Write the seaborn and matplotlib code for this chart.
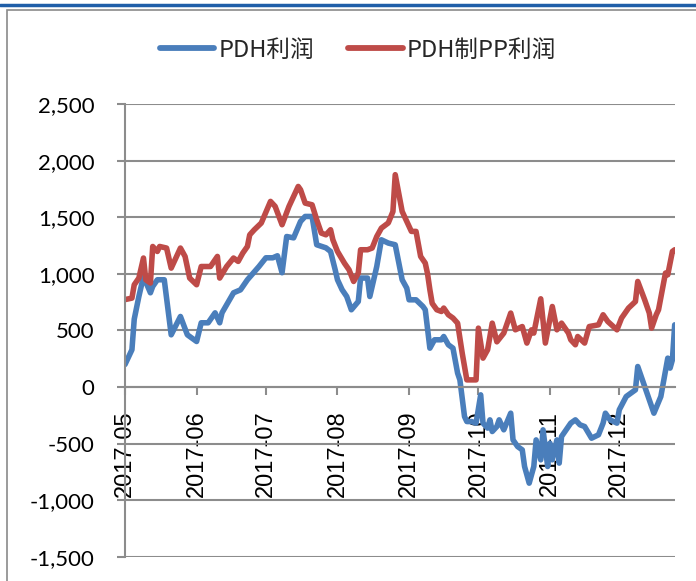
import matplotlib
matplotlib.use("Agg")
import matplotlib.pyplot as plt
import matplotlib.ticker as mticker
from matplotlib.patches import Rectangle
from matplotlib.lines import Line2D
import seaborn as sns
import pandas as pd

series_names = ["PDH利润", "PDH制PP利润"]
series_colors = ["#4a7ebb", "#be4b48"]

pdh_dates = [
    "2017-05-01", "2017-05-04", "2017-05-05", "2017-05-07", "2017-05-09", "2017-05-12", "2017-05-13",
    "2017-05-15", "2017-05-18", "2017-05-21", "2017-05-25", "2017-05-28", "2017-06-01", "2017-06-03",
    "2017-06-06", "2017-06-09", "2017-06-11", "2017-06-12", "2017-06-17", "2017-06-20", "2017-06-23",
    "2017-06-28", "2017-07-01", "2017-07-04", "2017-07-06", "2017-07-08", "2017-07-10", "2017-07-13",
    "2017-07-16", "2017-07-18", "2017-07-21", "2017-07-23", "2017-07-27", "2017-07-29", "2017-07-31",
    "2017-08-01", "2017-08-03", "2017-08-05", "2017-08-07", "2017-08-10", "2017-08-11", "2017-08-14",
    "2017-08-15", "2017-08-18", "2017-08-20", "2017-08-23", "2017-08-26", "2017-08-29", "2017-08-31",
    "2017-09-01", "2017-09-04", "2017-09-07", "2017-09-08", "2017-09-10", "2017-09-12", "2017-09-15",
    "2017-09-16", "2017-09-18", "2017-09-20", "2017-09-22", "2017-09-23", "2017-09-25", "2017-09-26",
    "2017-09-28", "2017-09-30", "2017-10-02", "2017-10-03", "2017-10-05", "2017-10-06", "2017-10-07",
    "2017-10-09", "2017-10-10", "2017-10-12", "2017-10-15", "2017-10-16", "2017-10-18", "2017-10-20",
    "2017-10-21", "2017-10-23", "2017-10-25", "2017-10-26", "2017-10-28", "2017-10-29", "2017-10-31",
    "2017-11-01", "2017-11-02", "2017-11-04", "2017-11-05", "2017-11-06", "2017-11-08", "2017-11-10",
    "2017-11-12", "2017-11-14", "2017-11-16", "2017-11-19", "2017-11-22", "2017-11-24", "2017-11-25",
    "2017-11-27", "2017-11-30", "2017-12-01", "2017-12-04", "2017-12-08", "2017-12-09", "2017-12-13",
    "2017-12-16", "2017-12-19", "2017-12-22", "2017-12-23", "2017-12-24", "2017-12-25",
]
pdh_values = [
    200, 330, 600, 800, 977, 833, 889,
    948, 948, 462, 624, 462, 403, 568,
    568, 656, 568, 656, 833, 859, 948,
    1065, 1142, 1142, 1160, 1010, 1330, 1318,
    1463, 1507, 1507, 1257, 1230, 1198, 1036,
    948, 860, 800, 683, 756, 963, 963,
    800, 1065, 1301, 1272, 1257, 948, 874,
    771, 771, 712, 683, 344, 418, 418,
    447, 374, 344, 124, 64, -260, -304,
    -304, -318, -68, -318, -362, -289, -392,
    -348, -289, -377, -230, -466, -525, -554,
    -701, -848, -701, -466, -642, -377, -701,
    -495, -642, -466, -671, -436, -377, -318,
    -289, -333, -348, -451, -421, -318, -230,
    -289, -318, -200, -83, -24, 182, -53,
    -230, -83, 256, 168, 241, 550,
]

pp_dates = [
    "2017-05-01", "2017-05-04", "2017-05-05", "2017-05-07", "2017-05-09", "2017-05-10", "2017-05-12",
    "2017-05-13", "2017-05-15", "2017-05-16", "2017-05-19", "2017-05-21", "2017-05-25", "2017-05-27",
    "2017-05-29", "2017-06-01", "2017-06-03", "2017-06-07", "2017-06-10", "2017-06-11", "2017-06-14",
    "2017-06-17", "2017-06-19", "2017-06-21", "2017-06-23", "2017-06-24", "2017-06-26", "2017-06-29",
    "2017-07-03", "2017-07-05", "2017-07-08", "2017-07-11", "2017-07-15", "2017-07-16", "2017-07-18",
    "2017-07-21", "2017-07-23", "2017-07-25", "2017-07-27", "2017-07-29", "2017-07-30", "2017-08-01",
    "2017-08-04", "2017-08-06", "2017-08-08", "2017-08-10", "2017-08-11", "2017-08-14", "2017-08-16",
    "2017-08-18", "2017-08-20", "2017-08-23", "2017-08-25", "2017-08-26", "2017-08-29", "2017-08-31",
    "2017-09-02", "2017-09-04", "2017-09-06", "2017-09-08", "2017-09-09", "2017-09-10", "2017-09-11",
    "2017-09-13", "2017-09-15", "2017-09-16", "2017-09-18", "2017-09-20", "2017-09-22", "2017-09-24",
    "2017-09-25", "2017-09-26", "2017-09-30", "2017-10-01", "2017-10-03", "2017-10-05", "2017-10-07",
    "2017-10-09", "2017-10-12", "2017-10-15", "2017-10-17", "2017-10-20", "2017-10-22", "2017-10-24",
    "2017-10-25", "2017-10-28", "2017-10-30", "2017-11-02", "2017-11-04", "2017-11-06", "2017-11-09",
    "2017-11-10", "2017-11-12", "2017-11-13", "2017-11-16", "2017-11-18", "2017-11-22", "2017-11-24",
    "2017-11-26", "2017-11-30", "2017-12-02", "2017-12-05", "2017-12-08", "2017-12-09", "2017-12-12",
    "2017-12-14", "2017-12-15", "2017-12-17", "2017-12-18", "2017-12-21", "2017-12-22", "2017-12-24",
    "2017-12-25",
]
pp_values = [
    773, 786, 904, 963, 1140, 948, 919,
    1242, 1198, 1242, 1228, 1051, 1228, 1154,
    963, 904, 1065, 1065, 1154, 963, 1065,
    1140, 1110, 1184, 1242, 1345, 1390, 1449,
    1640, 1596, 1434, 1596, 1772, 1743, 1625,
    1610, 1478, 1360, 1345, 1390, 1301, 1198,
    1095, 1036, 933, 1007, 1213, 1213, 1228,
    1330, 1404, 1450, 1550, 1876, 1551, 1463,
    1375, 1375, 1154, 1095, 1000, 860, 740,
    683, 668, 698, 639, 610, 565, 300,
    182, 64, 64, 521, 256, 330, 565,
    400, 477, 654, 506, 535, 389, 506,
    477, 780, 389, 712, 506, 565, 477,
    418, 374, 447, 389, 535, 550, 639,
    580, 506, 610, 698, 756, 933, 771,
    654, 521, 639, 683, 1007, 992, 1198,
    1213,
]

y_ticks = [-1500, -1000, -500, 0, 500, 1000, 1500, 2000, 2500]
x_tick_dates = ["2017-05-01", "2017-06-01", "2017-07-01", "2017-08-01",
                "2017-09-01", "2017-10-01", "2017-11-01", "2017-12-01"]
x_tick_labels = ["2017-05", "2017-06", "2017-07", "2017-08",
                 "2017-09", "2017-10", "2017-11", "2017-12"]
x_start, x_end = "2017-05-01", "2017-12-25"

df = pd.concat([
    pd.DataFrame({"date": pd.to_datetime(pdh_dates), "value": pdh_values, "series": series_names[0]}),
    pd.DataFrame({"date": pd.to_datetime(pp_dates), "value": pp_values, "series": series_names[1]}),
], ignore_index=True)

sns.set_theme(style="white")
plt.rcParams["font.family"] = ["Noto Sans CJK SC", "DejaVu Sans"]

fig = plt.figure(figsize=(6.96, 5.81), dpi=100)
ax = fig.add_axes([125 / 696, 1 - 557 / 581, (674.7 - 125) / 696, (557 - 104) / 581])

grid_c = "#8c8c8c"
ax.set_axisbelow(True)
ax.yaxis.grid(True, color=grid_c, lw=1.5)
ax.xaxis.grid(False)

sns.lineplot(data=df, x="date", y="value", hue="series", hue_order=series_names,
             palette=series_colors, estimator=None, linewidth=4.0, ax=ax, legend=False,
             solid_joinstyle="round", solid_capstyle="round")

ax.set_xlim(pd.Timestamp(x_start), pd.Timestamp(x_end))
ax.set_ylim(y_ticks[0], y_ticks[-1])
ax.set_xlabel("")
ax.set_ylabel("")

for s in ["top", "right"]:
    ax.spines[s].set_visible(False)
ax.spines["left"].set_color(grid_c)
ax.spines["left"].set_linewidth(1.5)
ax.spines["bottom"].set_position(("data", 0))
ax.spines["bottom"].set_color(grid_c)
ax.spines["bottom"].set_linewidth(1.5)

ax.set_yticks(y_ticks)
ax.yaxis.set_major_formatter(mticker.FuncFormatter(lambda v, p: f"{int(v):,}"))
ax.tick_params(axis="y", which="major", direction="out", length=6, width=1.5, color=grid_c,
               pad=16, labelsize=16, labelcolor="black", left=True)
for t in ax.get_yticklabels():
    t.set_fontfamily(["Lato", "DejaVu Sans"])

ax.set_xticks(pd.to_datetime(x_tick_dates))
ax.set_xticklabels(x_tick_labels, rotation=90, fontfamily=["Liberation Sans", "DejaVu Sans"], fontsize=17)
ax.tick_params(axis="x", which="major", direction="out", length=6, width=1.5, color=grid_c,
               pad=11, labelcolor="black", bottom=True)

handles = [Line2D([], [], color=c, lw=4.2, solid_capstyle="round") for c in series_colors]
fig.legend(handles, series_names, loc="center", bbox_to_anchor=(358 / 696, 1 - 50 / 581),
           ncol=2, frameon=False, handlelength=2.3, handletextpad=0.18,
           columnspacing=1.45, prop={"family": ["Noto Sans CJK SC", "DejaVu Sans"], "size": 17})

fig.add_artist(Rectangle((7 / 696, -0.05), 1.0, 1 - 10 / 581 + 0.05, transform=fig.transFigure,
                         fill=False, edgecolor="#8a8a8a", lw=1.2, clip_on=False))
fig.add_artist(Line2D([0, 1], [1 - 5 / 581, 1 - 5 / 581], transform=fig.transFigure,
                      color="#1f5ea8", lw=2.5))

fig.savefig("out.png", dpi=100)
